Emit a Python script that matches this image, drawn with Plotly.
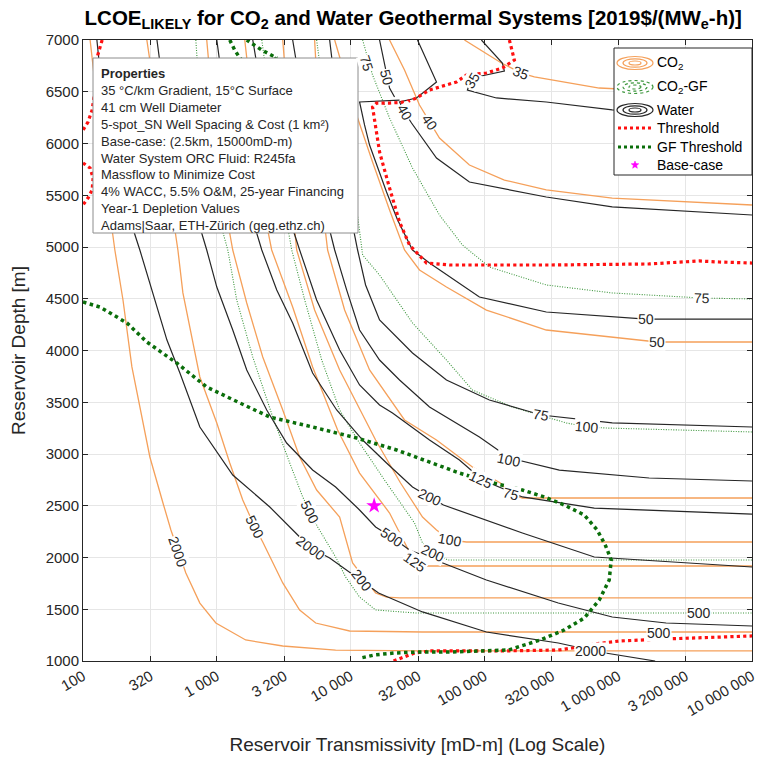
import math
import plotly.graph_objects as go

# ---------------- data ----------------
# transmissivity [mD-m] / depth [m] along each contour line
co2_2000_T = [113, 134, 154, 173, 199, 232, 290, 316, 396, 454, 587, 747, 984, 1644, 3111, 7727, 34470, 1e7]
co2_2000_D = [7000, 6130, 5454, 4971, 4488, 3841, 3232, 2971, 2527, 2266, 1850, 1560, 1367, 1203, 1145, 1106, 1097, 1097]
co2_500_T = [300, 376, 446, 512, 558, 747, 1000, 1250, 1563, 1923, 2205, 3111, 4161, 5483, 9840, 34470, 1e7]
co2_500_D = [7000, 6130, 5454, 4971, 4556, 3744, 3300, 2913, 2556, 2295, 2150, 1754, 1493, 1367, 1290, 1280, 1280]
co2_200_T = [841, 966, 1128, 1316, 1674, 2205, 3111, 4161, 5573, 8281, 10350, 15380, 18560, 23220, 1e7]
co2_200_D = [7000, 6130, 5454, 4971, 4459, 3937, 3425, 2971, 2652, 2391, 1947, 1657, 1618, 1609, 1609]
co2_125_T = [1618, 1923, 2169, 2572, 3690, 5202, 8000, 11670, 19550, 25290, 30050, 34470, 1e7]
co2_125_D = [7000, 6130, 5454, 4971, 4420, 3841, 3232, 2816, 2430, 2140, 1956, 1918, 1918]
co2_100_T = [3111, 3508, 3631, 3955, 5383, 8281, 15380, 23620, 34470, 43850, 55720, 73400, 1e7]
co2_100_D = [7000, 6130, 5454, 4971, 4391, 3812, 3135, 2720, 2391, 2266, 2169, 2150, 2150]
co2_75_T = [5383, 5872, 6082, 6734, 9022, 13860, 25290, 43850, 81360, 131600, 159000, 192200, 1e7]
co2_75_D = [7000, 6130, 5454, 4971, 4391, 3812, 3329, 3135, 2874, 2720, 2613, 2575, 2575]
co2_50_T = [7603, 9022, 11090, 14590, 19550, 25290, 32730, 52040, 103500, 290100, 902200, 1954000, 1e7]
co2_50_D = [7000, 6662, 6275, 5821, 5357, 4971, 4778, 4613, 4391, 4198, 4130, 4082, 4082]
co2_40_T = [19550, 25290, 32730, 38880, 46150, 77280, 141000, 290100, 902200, 1e7]
co2_40_D = [7000, 6710, 6372, 6208, 6053, 5792, 5647, 5551, 5473, 5406]
co2_35_T = [70920, 134000, 188900, 236200, 721700, 2853000, 1e7]
co2_35_D = [7000, 6778, 6681, 6643, 6536, 6498, 6488]

w_2000_T = [127, 141, 173, 213, 266, 316, 424, 530, 747, 1316, 2489, 3890, 5024, 6974, 16180, 34470, 103500, 356600, 721700, 1889000]
w_2000_D = [7000, 6420, 5841, 5357, 4971, 4652, 4101, 3783, 3261, 2797, 2488, 2237, 2092, 1995, 1657, 1474, 1280, 1174, 1087, 1000]
w_500_T = [357, 409, 530, 685, 841, 1000, 1316, 1674, 2362, 3326, 5202, 7727, 11670, 15380, 20240, 27560, 52970, 103500, 356600, 902200, 2282000, 1e7]
w_500_D = [7000, 6420, 5841, 5357, 4971, 4613, 4198, 3812, 3425, 3106, 2845, 2681, 2459, 2295, 2198, 2072, 1928, 1783, 1560, 1425, 1367, 1338]
w_200_T = [1000, 1148, 1435, 1763, 2169, 2806, 3690, 5202, 7871, 12300, 18560, 29020, 38880, 49430, 192200, 662600, 1e7]
w_200_D = [7000, 6420, 5841, 5357, 4971, 4585, 4266, 3783, 3425, 3135, 2913, 2681, 2585, 2507, 2237, 2005, 1908]
w_125_T = [1857, 2205, 2661, 3326, 4161, 5573, 8281, 11670, 16460, 20570, 38880, 65050, 96640, 192200, 662600, 1e7]
w_125_D = [7000, 6420, 5841, 5357, 4971, 4488, 4005, 3667, 3473, 3396, 3135, 2942, 2749, 2585, 2478, 2420]
w_100_T = [3690, 4385, 5297, 6401, 7603, 9340, 11670, 16460, 23220, 38880, 91750, 153700, 363000, 1702000, 1e7]
w_100_D = [7000, 6420, 5841, 5357, 4971, 4585, 4198, 3908, 3715, 3454, 3164, 2961, 2845, 2768, 2739]
w_75_T = [6974, 7871, 8871, 9840, 11280, 12940, 16460, 29020, 52040, 109000, 266000, 902200, 1e7]
w_75_D = [7000, 6420, 5841, 5357, 4971, 4633, 4295, 3976, 3715, 3522, 3377, 3300, 3261]
w_50a_T = [16460, 17940, 19550, 21300]
w_50a_D = [7000, 6758, 6536, 6449]
w_50_T = [23220, 11670, 12710, 13860, 18560, 22440, 29020, 38880, 91750, 290100, 1617000, 1e7]
w_50_D = [6420, 6401, 6179, 5985, 5531, 5261, 4971, 4845, 4517, 4372, 4304, 4304]
w_40_T = [31620, 43850, 31090, 23220, 25290, 28530, 43850, 77280, 290100, 902200, 1e7]
w_40_D = [7000, 6594, 6440, 6401, 6304, 6198, 5860, 5628, 5483, 5387, 5309]
w_35_T = [95000, 136200, 141000, 95000, 77280, 74650, 123000, 290100, 902200, 1e7]
w_35_D = [7000, 6778, 6700, 6652, 6575, 6517, 6440, 6401, 6324, 6275]

gf_500_T = [697, 747, 857, 1000, 1208, 1409, 1857, 2618, 3508, 4385, 5675, 7727, 9175, 11670, 15380, 30570, 1e7]
gf_500_D = [7000, 6420, 5841, 5357, 4971, 4488, 3937, 3357, 2913, 2585, 2295, 2005, 1812, 1618, 1493, 1464, 1464]
gf_200_T = [2169, 2489, 2853, 3216, 3631, 4539, 6082, 8281, 11280, 18560, 30050, 34470, 52970, 1e7]
gf_200_D = [7000, 6420, 5841, 5357, 4971, 4488, 3908, 3425, 3135, 2720, 2333, 2140, 1976, 1976]
gf_100_T = [5573, 6401, 7871, 11090, 12300, 16460, 29020, 52040, 81360, 161800, 409400, 587000, 812500, 1e7]
gf_100_D = [7000, 6420, 5841, 5377, 4923, 4729, 4266, 3908, 3618, 3454, 3300, 3261, 3251, 3213]
gf_75_T = [12300, 14590, 19550, 29020, 46150, 68520, 109000, 290100, 902200, 4234000, 1e7]
gf_75_D = [7000, 6662, 6246, 5763, 5309, 5019, 4807, 4633, 4556, 4507, 4498]

thr_T = [153700, 167500, 136200, 103500, 73400, 61800, 46150, 38880, 31090, 26180, 19550, 15640, 14590,
         16460, 19550, 23220, 27560, 36910, 54800, 305600, 1702000, 4019000, 5672000, 1e7]
thr_D = [7000, 6807, 6729, 6681, 6662, 6594, 6546, 6517, 6440, 6401, 6391, 6391, 6353,
         5918, 5570, 5242, 5019, 4845, 4826, 4826, 4836, 4865, 4855, 4845]
thr_left1_T = [139, 129, 123, 117, 109, 100]
thr_left1_D = [7000, 6855, 6517, 6324, 6208, 6130]
thr_left2_T = [100, 113, 119, 117, 109, 100]
thr_left2_D = [5812, 5763, 5667, 5551, 5473, 5406]
thr_low_T = [20940, 25290, 30050, 38880, 129500, 356600, 511800, 662600, 1017000, 2282000, 4019000, 1e7]
thr_low_D = [1000, 1039, 1077, 1097, 1097, 1106, 1135, 1164, 1193, 1213, 1222, 1242]

gf_thr_T = [100, 134, 213, 300, 502, 841, 1486, 2489, 5202, 11090, 22050, 38880, 65050, 109000, 192200,
            280600, 395500, 557500, 696300, 800200, 887000, 857000, 721700, 557500, 395500, 261700,
            151100, 91750, 55720, 32730, 20940, 15100, 11880]
gf_thr_D = [4469, 4420, 4266, 4082, 3879, 3647, 3493, 3357, 3261, 3155, 3039, 2923, 2816, 2729, 2652,
            2585, 2507, 2411, 2266, 2121, 1976, 1783, 1589, 1415, 1300, 1203,
            1106, 1097, 1087, 1087, 1077, 1058, 1029]
gf_thr_top_T = [1250, 1361, 1486, 1900, 2806, 2169, 1674]
gf_thr_top_D = [7000, 6903, 6826, 6700, 6826, 6903, 7000]

base_T = [15000]
base_D = [2500]

# contour labels: text, transmissivity, depth, rotation
lab_text = ["2000", "500", "500", "2000", "200", "500", "125", "200", "100", "200", "125", "75", "100",
            "75", "100", "75", "50", "50", "500", "500", "2000", "75", "50", "40", "40", "35", "35"]
lab_T = [512, 1923, 4947, 5024, 12080, 20240, 30050, 40940, 55720, 38880, 95000, 159000, 153700,
         266000, 587000, 4234000, 1617000, 1954000, 4019000, 2023000, 618000, 13160, 18560, 25290,
         38880, 81360, 188900]
lab_D = [2053, 2295, 2440, 2092, 1783, 2198, 1956, 2043, 2169, 2585, 2749, 2613, 2942,
         3377, 3261, 4507, 4304, 4082, 1464, 1271, 1097, 6778, 6643, 6304,
         6208, 6614, 6681]
lab_ang = [71, 64, 63, 36, 52, 34, 35, 25, 10, 25, 25, 15, 12,
           10, 5, 2, 1, 1, 0, 0, 0, 72, 75, 60, 55, -60, 20]

x_tickvals = [100, 320, 1000, 3200, 10000, 32000, 100000, 320000, 1000000, 3200000, 10000000]
x_ticktext = ["100", "320", "1 000", "3 200", "10 000", "32 000", "100 000", "320 000",
              "1 000 000", "3 200 000", "10 000 000"]
y_tickvals = list(range(1000, 7001, 500))

# ---------------- styles ----------------
ORANGE = "#f5a05a"
BLACK = "#262626"
GREEN = "#3c963c"
DKGREEN = "#0a6e0a"
RED = "#ff1010"
MAGENTA = "#ff00ff"
FONT = "Liberation Sans, Arial, sans-serif"

fig = go.Figure()


def add_line(T, D, color, width, dash="solid"):
    fig.add_trace(go.Scatter(x=T, y=D, mode="lines", line=dict(color=color, width=width, dash=dash),
                             showlegend=False, hoverinfo="skip"))


for T, D in [(co2_2000_T, co2_2000_D), (co2_500_T, co2_500_D), (co2_200_T, co2_200_D),
             (co2_125_T, co2_125_D), (co2_100_T, co2_100_D), (co2_75_T, co2_75_D),
             (co2_50_T, co2_50_D), (co2_40_T, co2_40_D), (co2_35_T, co2_35_D)]:
    add_line(T, D, ORANGE, 1.3)
for T, D in [(gf_500_T, gf_500_D), (gf_200_T, gf_200_D), (gf_100_T, gf_100_D), (gf_75_T, gf_75_D)]:
    add_line(T, D, GREEN, 1.1, "1px,1.5px")
for T, D in [(w_2000_T, w_2000_D), (w_500_T, w_500_D), (w_200_T, w_200_D), (w_125_T, w_125_D),
             (w_100_T, w_100_D), (w_75_T, w_75_D), (w_50a_T, w_50a_D), (w_50_T, w_50_D),
             (w_40_T, w_40_D), (w_35_T, w_35_D)]:
    add_line(T, D, BLACK, 1.2)
for T, D in [(thr_T, thr_D), (thr_left1_T, thr_left1_D), (thr_left2_T, thr_left2_D), (thr_low_T, thr_low_D)]:
    add_line(T, D, RED, 3.2, "dot")
for T, D in [(gf_thr_T, gf_thr_D), (gf_thr_top_T, gf_thr_top_D)]:
    add_line(T, D, DKGREEN, 3.5, "dot")

fig.add_trace(go.Scatter(x=base_T, y=base_D, mode="markers",
                         marker=dict(symbol="star", size=12, color=MAGENTA),
                         showlegend=False, hoverinfo="skip"))

annotations = []
for t, xv, yv, a in zip(lab_text, lab_T, lab_D, lab_ang):
    annotations.append(dict(x=math.log10(xv), y=yv, xref="x", yref="y", text=t,
                            showarrow=False, textangle=a, bgcolor="white", borderpad=0,
                            font=dict(family=FONT, size=14, color=BLACK)))


# ---------------- properties box ----------------
def px(x):
    return (x - 83) / 669.0


def py(y):
    return 1 - (y - 40) / 621.0


shapes = [dict(type="rect", xref="paper", yref="paper", x0=px(93), x1=px(358), y0=py(233), y1=py(58),
               fillcolor="white", line=dict(color="#8c8c8c", width=1), layer="above")]
prop_text = ("<b>Properties</b><br>35 °C/km Gradient, 15°C Surface<br>41 cm Well Diameter<br>"
             "5-spot_SN Well Spacing &amp; Cost (1 km²)<br>Base-case: (2.5km, 15000mD-m)<br>"
             "Water System ORC Fluid: R245fa<br>Massflow to Minimize Cost<br>"
             "4% WACC, 5.5% O&amp;M, 25-year Financing<br>Year-1 Depletion Values<br>"
             "Adams|Saar, ETH-Zürich (geg.ethz.ch)")
annotations.append(dict(x=px(99), y=py(64), xref="paper", yref="paper", xanchor="left", yanchor="top",
                        align="left", showarrow=False, text=prop_text,
                        font=dict(family=FONT, size=13, color=BLACK)))

# ---------------- legend ----------------
shapes.append(dict(type="rect", xref="paper", yref="paper", x0=px(614), x1=px(752), y0=py(175), y1=py(48),
                   fillcolor="white", line=dict(color="#262626", width=1), layer="above"))
icon_x = 635
rings = [(18, 6.5), (12, 4.2), (6, 2)]
for yc, col, dash in [(63, ORANGE, "solid"), (87, GREEN, "dot"), (110, BLACK, "solid")]:
    for hw, hh in rings:
        shapes.append(dict(type="circle", xref="paper", yref="paper", x0=px(icon_x - hw), x1=px(icon_x + hw),
                           y0=py(yc + hh), y1=py(yc - hh), line=dict(color=col, width=1.2, dash=dash),
                           layer="above"))
for yc, col in [(128, RED), (147, DKGREEN)]:
    shapes.append(dict(type="line", xref="paper", yref="paper", x0=px(618), x1=px(652), y0=py(yc), y1=py(yc),
                       line=dict(color=col, width=3, dash="dot"), layer="above"))
leg_items = [(63, "CO<sub>2</sub>"), (87, "CO<sub>2</sub>-GF"), (110, "Water"), (128, "Threshold"),
             (147, "GF Threshold"), (165, "Base-case")]
for yc, txt in leg_items:
    annotations.append(dict(x=px(655), y=py(yc), xref="paper", yref="paper", xanchor="left",
                            yanchor="middle", showarrow=False, text=txt,
                            font=dict(family=FONT, size=14, color="#000000")))

# small star icon for the legend, drawn as a path shape in paper units
star_pts = []
for k in range(10):
    r = 4.0 if k % 2 == 0 else 1.7
    ang = -math.pi / 2 + k * math.pi / 5
    sx = icon_x + r * math.cos(ang)
    sy = 165 + r * math.sin(ang)
    star_pts.append("%s%.5f,%.5f" % ("M" if k == 0 else "L", px(sx), py(sy)))
shapes.append(dict(type="path", xref="paper", yref="paper", path=" ".join(star_pts) + " Z",
                   fillcolor=MAGENTA, line=dict(color=MAGENTA, width=0.5), layer="above"))

fig.update_layout(
    width=761, height=764,
    margin=dict(l=83, r=9, t=40, b=103, autoexpand=False),
    paper_bgcolor="white", plot_bgcolor="white",
    title=dict(text="<b>LCOE<sub>LIKELY</sub> for CO<sub>2</sub> and Water Geothermal Systems [2019$/(MW<sub>e</sub>-h)]</b>",
               x=0.543, xanchor="center", y=1 - 18 / 764, yanchor="middle",
               font=dict(family=FONT, size=20.5, color="#000000")),
    xaxis=dict(type="log", range=[2, 7], tickvals=x_tickvals, ticktext=x_ticktext, tickangle=-30,
               showgrid=True, gridcolor="#e6e6e6", gridwidth=1, zeroline=False,
               showline=True, linecolor=BLACK, linewidth=1, mirror="ticks",
               ticks="inside", ticklen=5, tickcolor=BLACK,
               tickfont=dict(family=FONT, size=15, color=BLACK),
               title=dict(text="Reservoir Transmissivity [mD-m] (Log Scale)", standoff=19,
                          font=dict(family=FONT, size=19, color=BLACK))),
    yaxis=dict(range=[1000, 7000], tickvals=y_tickvals, showgrid=True, gridcolor="#e6e6e6",
               zeroline=False, showline=True, linecolor=BLACK, linewidth=1, mirror="ticks",
               ticks="inside", ticklen=5, tickcolor=BLACK,
               tickfont=dict(family=FONT, size=15, color=BLACK),
               title=dict(text="Reservoir Depth [m]", standoff=14,
                          font=dict(family=FONT, size=19, color=BLACK))),
    shapes=shapes, annotations=annotations,
)

fig.write_html("out.html")
